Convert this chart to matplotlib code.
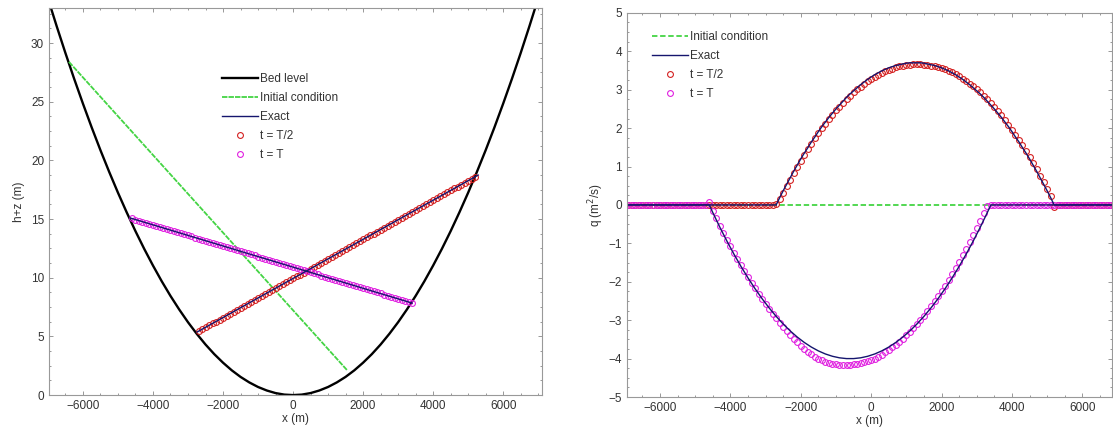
import numpy as np
import matplotlib
matplotlib.use('Agg')
import matplotlib.pyplot as plt
from matplotlib.ticker import AutoMinorLocator

plt.rcParams['font.family'] = ['Liberation Sans', 'DejaVu Sans']

# ---------------- left panel: free surface h+z ----------------
x_bed = np.arange(-7000, 7001, 250)
z_bed = [33.81, 31.44, 29.15, 26.95, 24.84, 22.81, 20.87, 19.02, 17.25, 15.57,
         13.97, 12.46, 11.04, 9.70, 8.45, 7.29, 6.21, 5.22, 4.31, 3.49,
         2.76, 2.11, 1.55, 1.08, 0.69, 0.39, 0.17, 0.04, 0.00,
         0.04, 0.17, 0.39, 0.69, 1.08, 1.55, 2.11, 2.76, 3.49, 4.31,
         5.22, 6.21, 7.29, 8.45, 9.70, 11.04, 12.46, 13.97, 15.57, 17.25,
         19.02, 20.87, 22.81, 24.84, 26.95, 29.15, 31.44, 33.81]

x_init = [-6400, 1550]
eta_init = [28.4, 2.1]

x_exact_half = [-2743, 5286]
eta_exact_half = [5.37, 18.75]
x_exact_T = [-4657, 3400]
eta_exact_T = [15.10, 7.84]

x_num_half = np.arange(-2700, 5201, 100)
eta_num_half = [5.44, 5.61, 5.77, 5.94, 6.11, 6.27, 6.44, 6.61, 6.77, 6.94,
                7.11, 7.27, 7.44, 7.61, 7.77, 7.94, 8.11, 8.27, 8.44, 8.61,
                8.77, 8.94, 9.11, 9.27, 9.44, 9.61, 9.77, 9.94, 10.11, 10.27,
                10.44, 10.61, 10.77, 10.94, 11.11, 11.27, 11.44, 11.61, 11.77, 11.94,
                12.11, 12.27, 12.44, 12.61, 12.77, 12.94, 13.11, 13.27, 13.44, 13.61,
                13.77, 13.94, 14.11, 14.27, 14.44, 14.61, 14.77, 14.94, 15.11, 15.27,
                15.44, 15.61, 15.77, 15.94, 16.11, 16.27, 16.44, 16.61, 16.77, 16.94,
                17.11, 17.27, 17.44, 17.61, 17.77, 17.94, 18.11, 18.27, 18.44, 18.61]

x_num_T = np.arange(-4600, 3401, 100)
eta_num_T = [15.05, 14.96, 14.87, 14.78, 14.69, 14.60, 14.51, 14.42, 14.33, 14.24,
             14.15, 14.06, 13.97, 13.88, 13.79, 13.70, 13.61, 13.52, 13.43, 13.34,
             13.25, 13.16, 13.07, 12.98, 12.89, 12.80, 12.71, 12.62, 12.53, 12.44,
             12.35, 12.26, 12.17, 12.08, 11.99, 11.90, 11.81, 11.72, 11.63, 11.54,
             11.45, 11.36, 11.27, 11.18, 11.09, 11.00, 10.91, 10.82, 10.73, 10.64,
             10.55, 10.46, 10.37, 10.28, 10.19, 10.10, 10.01, 9.92, 9.83, 9.74,
             9.65, 9.56, 9.47, 9.38, 9.29, 9.20, 9.11, 9.02, 8.93, 8.84,
             8.75, 8.66, 8.57, 8.48, 8.39, 8.30, 8.21, 8.12, 8.03, 7.94, 7.85]

# ---------------- right panel: discharge q ----------------
x_mesh = np.arange(-7000, 7001, 100)

q_init = [0.0, 0.0]
x_init_q = [-7000, 7000]

zeros_43 = [0, 0, 0, 0, 0, 0, 0, 0, 0, 0, 0, 0, 0, 0, 0, 0, 0, 0, 0, 0, 0,
            0, 0, 0, 0, 0, 0, 0, 0, 0, 0, 0, 0, 0, 0, 0, 0, 0, 0, 0, 0, 0, 0]
zeros_18 = [0, 0, 0, 0, 0, 0, 0, 0, 0, 0, 0, 0, 0, 0, 0, 0, 0, 0]
zeros_24 = [0, 0, 0, 0, 0, 0, 0, 0, 0, 0, 0, 0, 0, 0, 0, 0, 0, 0, 0, 0, 0, 0, 0, 0]
zeros_36 = [0, 0, 0, 0, 0, 0, 0, 0, 0, 0, 0, 0, 0, 0, 0, 0, 0, 0,
            0, 0, 0, 0, 0, 0, 0, 0, 0, 0, 0, 0, 0, 0, 0, 0, 0, 0]

# t = T/2, wet between -2700 and 5200
q_exact_half_wet = [0.00, 0.19, 0.37, 0.54, 0.71, 0.88, 1.04, 1.20, 1.35, 1.49,
                    1.64, 1.77, 1.91, 2.04, 2.16, 2.28, 2.39, 2.50, 2.60, 2.70,
                    2.80, 2.89, 2.97, 3.05, 3.13, 3.20, 3.27, 3.33, 3.39, 3.44,
                    3.49, 3.53, 3.57, 3.60, 3.63, 3.65, 3.67, 3.69, 3.70, 3.70,
                    3.70, 3.70, 3.69, 3.67, 3.65, 3.63, 3.60, 3.57, 3.53, 3.49,
                    3.44, 3.39, 3.33, 3.27, 3.20, 3.13, 3.05, 2.97, 2.89, 2.80,
                    2.70, 2.60, 2.50, 2.39, 2.28, 2.16, 2.04, 1.91, 1.77, 1.64,
                    1.49, 1.35, 1.20, 1.04, 0.88, 0.71, 0.54, 0.37, 0.19, 0.00]
q_num_half_wet = [0.02, 0.15, 0.32, 0.49, 0.66, 0.82, 0.99, 1.15, 1.30, 1.45,
                  1.59, 1.73, 1.86, 1.99, 2.11, 2.23, 2.35, 2.46, 2.56, 2.66,
                  2.75, 2.84, 2.93, 3.01, 3.08, 3.15, 3.22, 3.28, 3.34, 3.39,
                  3.44, 3.48, 3.52, 3.55, 3.58, 3.61, 3.63, 3.64, 3.65, 3.66,
                  3.66, 3.66, 3.65, 3.64, 3.63, 3.61, 3.59, 3.56, 3.53, 3.49,
                  3.45, 3.40, 3.35, 3.29, 3.23, 3.16, 3.09, 3.01, 2.93, 2.84,
                  2.75, 2.65, 2.55, 2.44, 2.33, 2.21, 2.09, 1.96, 1.83, 1.69,
                  1.55, 1.40, 1.25, 1.09, 0.93, 0.76, 0.59, 0.41, 0.22, -0.05]

# t = T, wet between -4600 and 3400
q_exact_T_wet = [0.00, -0.20, -0.39, -0.58, -0.76, -0.94, -1.11, -1.28, -1.44, -1.60,
                 -1.75, -1.90, -2.04, -2.18, -2.31, -2.44, -2.56, -2.68, -2.79, -2.90,
                 -3.00, -3.10, -3.19, -3.28, -3.36, -3.44, -3.51, -3.58, -3.64, -3.70,
                 -3.75, -3.80, -3.84, -3.88, -3.91, -3.94, -3.96, -3.98, -3.99, -4.00, -4.00,
                 -4.00, -3.99, -3.98, -3.96, -3.94, -3.91, -3.88, -3.84, -3.80, -3.75,
                 -3.70, -3.64, -3.58, -3.51, -3.44, -3.36, -3.28, -3.19, -3.10, -3.00,
                 -2.90, -2.79, -2.68, -2.56, -2.44, -2.31, -2.18, -2.04, -1.90, -1.75,
                 -1.60, -1.44, -1.28, -1.11, -0.94, -0.76, -0.58, -0.39, -0.20, 0.00]
q_num_T_wet = [0.08, -0.15, -0.35, -0.54, -0.72, -0.90, -1.07, -1.24, -1.41, -1.57,
               -1.73, -1.88, -2.03, -2.17, -2.31, -2.45, -2.58, -2.71, -2.83, -2.95,
               -3.07, -3.18, -3.29, -3.39, -3.49, -3.58, -3.67, -3.75, -3.82, -3.89,
               -3.95, -4.00, -4.04, -4.08, -4.11, -4.13, -4.15, -4.16, -4.16, -4.16, -4.16,
               -4.15, -4.14, -4.12, -4.10, -4.07, -4.04, -4.00, -3.95, -3.90, -3.84,
               -3.78, -3.71, -3.64, -3.56, -3.48, -3.39, -3.30, -3.20, -3.10, -2.99,
               -2.88, -2.76, -2.64, -2.51, -2.38, -2.24, -2.10, -1.95, -1.80, -1.64,
               -1.48, -1.31, -1.14, -0.96, -0.78, -0.60, -0.41, -0.22, -0.04, 0.00]

q_exact_half = zeros_43 + q_exact_half_wet + zeros_18
q_num_half = zeros_43 + q_num_half_wet + zeros_18
q_exact_T = zeros_24 + q_exact_T_wet + zeros_36
q_num_T = zeros_24 + q_num_T_wet + zeros_36

c_bed = 'black'
c_init = '#44d444'
c_exact = '#15156e'
c_half = '#d42020'
c_T = '#e020e0'
txt = '#333333'

fig = plt.figure(figsize=(11.13, 4.38), dpi=100)
ax1 = fig.add_axes([0.044, 0.098, 0.443, 0.884])
ax2 = fig.add_axes([0.5633, 0.0936, 0.436, 0.877])

mk = dict(marker='o', linestyle='none', markersize=4.2, markerfacecolor='none', markeredgewidth=0.8)

# left
ax1.plot(x_bed, z_bed, color=c_bed, linewidth=1.7, label='Bed level')
ax1.plot(x_init, eta_init, color=c_init, linewidth=1.3, dashes=(3, 0.6), label='Initial condition')
ax1.plot(x_num_half, eta_num_half, color=c_half, **mk)
ax1.plot(x_num_T, eta_num_T, color=c_T, **mk)
ax1.plot(x_exact_half, eta_exact_half, color=c_exact, linewidth=1.0, label='Exact')
ax1.plot(x_exact_T, eta_exact_T, color=c_exact, linewidth=1.0)
ax1.plot([], [], color=c_half, label='t = T/2', **mk)
ax1.plot([], [], color=c_T, label='t = T', **mk)
ax1.set_xlim(-6970, 7110)
ax1.set_ylim(0, 33)
ax1.set_xticks([-6000, -4000, -2000, 0, 2000, 4000, 6000])
ax1.set_yticks([0, 5, 10, 15, 20, 25, 30])
ax1.set_xlabel('x (m)', fontsize=8.5, color=txt, labelpad=1)
ax1.set_ylabel('h+z (m)', fontsize=8.5, color=txt, labelpad=4)
ax1.legend(loc='upper left', bbox_to_anchor=(0.33, 0.86), frameon=False, fontsize=8.5,
           handlelength=3.0, handletextpad=0.2, labelspacing=0.6, labelcolor=txt)

# right
ax2.plot(x_init_q, q_init, color=c_init, linewidth=1.3, dashes=(3, 1.5), label='Initial condition')
ax2.plot(x_mesh, q_num_half, color=c_half, **mk)
ax2.plot(x_mesh, q_num_T, color=c_T, **mk)
ax2.plot(x_mesh, q_exact_half, color=c_exact, linewidth=1.0, label='Exact')
ax2.plot(x_mesh, q_exact_T, color=c_exact, linewidth=1.0)
ax2.plot([], [], color=c_half, label='t = T/2', **mk)
ax2.plot([], [], color=c_T, label='t = T', **mk)
ax2.set_xlim(-6940, 6850)
ax2.set_ylim(-5, 5)
ax2.set_xticks([-6000, -4000, -2000, 0, 2000, 4000, 6000])
ax2.set_yticks([-5, -4, -3, -2, -1, 0, 1, 2, 3, 4, 5])
ax2.set_xlabel('x (m)', fontsize=8.5, color=txt, labelpad=1)
ax2.set_ylabel('q (m$^2$/s)', fontsize=8.5, color=txt, labelpad=2)
ax2.legend(loc='upper left', bbox_to_anchor=(0.03, 0.98), frameon=False, fontsize=8.5,
           handlelength=3.0, handletextpad=0.2, labelspacing=0.6, labelcolor=txt)

for ax in (ax1, ax2):
    ax.xaxis.set_minor_locator(AutoMinorLocator(4))
    ax.yaxis.set_minor_locator(AutoMinorLocator(4))
    ax.tick_params(which='both', direction='in', top=True, right=True,
                   colors='#888888', labelcolor=txt, labelsize=8.5, width=0.6)
    ax.tick_params(which='major', length=3)
    ax.tick_params(which='minor', length=1.5)
    for s in ax.spines.values():
        s.set_color('#999999')
        s.set_linewidth(0.8)

fig.savefig('out.png', dpi=100)
